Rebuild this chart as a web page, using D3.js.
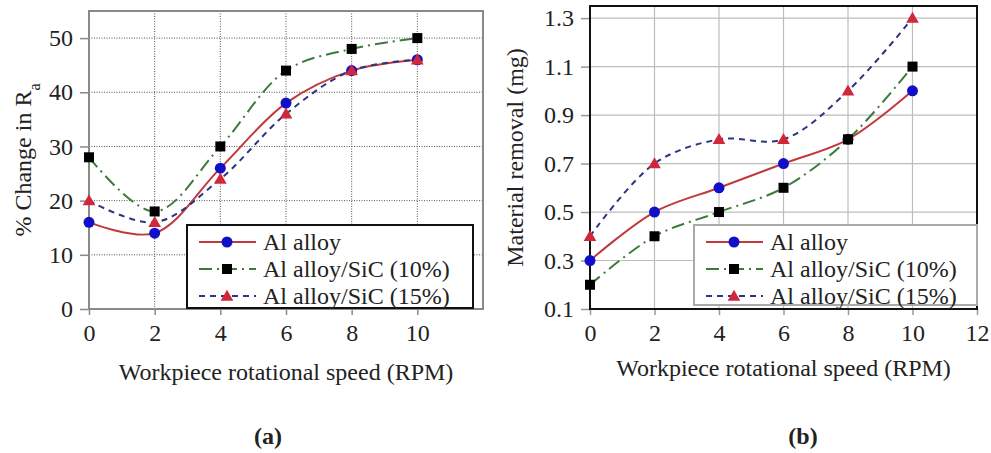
<!DOCTYPE html>
<html>
<head>
<meta charset="utf-8">
<script src="https://cdn.jsdelivr.net/npm/d3@7"></script>
<style>
  body { margin: 0; background: #fff; }
  text { font-family: "Liberation Serif", "Times New Roman", serif; fill: #222; }
</style>
</head>
<body>
<script>
const speeds = [0, 2, 4, 6, 8, 10]
const seriesNames = ['Al alloy', 'Al alloy/SiC (10%)', 'Al alloy/SiC (15%)']

// (a) % change in Ra
const raAlloy = [16, 14, 26, 38, 44, 46]
const raSic10 = [28, 18, 30, 44, 48, 50]
const raSic15 = [20, 16, 24, 36, 44, 46]

// (b) material removal (mg)
const mrAlloy = [0.3, 0.5, 0.6, 0.7, 0.8, 1.0]
const mrSic10 = [0.2, 0.4, 0.5, 0.6, 0.8, 1.1]
const mrSic15 = [0.4, 0.7, 0.8, 0.8, 1.0, 1.3]

const raTicksY = [0, 10, 20, 30, 40, 50]
const raTicksX = [0, 2, 4, 6, 8, 10]
const mrTicksY = [0.1, 0.3, 0.5, 0.7, 0.9, 1.1, 1.3]
const mrTicksX = [0, 2, 4, 6, 8, 10, 12]

const w = 991
const h = 453
const fs = 24

const styles = [
  { line: '#c0393d', dash: null, marker: 'circle', fill: '#1010c8' },
  { line: '#3d7a3a', dash: '13,5,2,5', marker: 'square', fill: '#000' },
  { line: '#2b3485', dash: '6,5', marker: 'triangle', fill: '#d0283a' }
]

const svg = d3.select('body')
  .append('svg')
  .attr('width', w)
  .attr('height', h)

function drawMarker(g, type, x, y, fill) {
  if (type === 'circle') {
    g.append('circle').attr('cx', x).attr('cy', y).attr('r', 5.5).attr('fill', fill)
  } else if (type === 'square') {
    g.append('rect').attr('x', x - 5).attr('y', y - 5).attr('width', 10).attr('height', 10).attr('fill', fill)
  } else {
    g.append('path').attr('d', d3.symbol(d3.symbolTriangle, 70)()).attr('transform', `translate(${x},${y + 1})`).attr('fill', fill)
  }
}

function drawChart(opt) {
  const g = svg.append('g')
  const x = d3.scaleLinear().domain(opt.xDomain).range(opt.xRange)
  const y = d3.scaleLinear().domain(opt.yDomain).range(opt.yRange)

  // grid
  g.selectAll('.gx').data(opt.xTicks.filter(t => t > opt.xDomain[0] && t < opt.xDomain[1])).enter()
    .append('line')
    .attr('x1', d => x(d)).attr('x2', d => x(d))
    .attr('y1', opt.yRange[1]).attr('y2', opt.yRange[0])
    .attr('stroke', opt.gridColor).attr('stroke-width', opt.gridWidth)
    .attr('stroke-dasharray', opt.gridDash)
  g.selectAll('.gy').data(opt.yTicks.filter(t => t > opt.yDomain[0] && t < opt.yDomain[1])).enter()
    .append('line')
    .attr('x1', opt.xRange[0]).attr('x2', opt.xRange[1])
    .attr('y1', d => y(d)).attr('y2', d => y(d))
    .attr('stroke', opt.gridColor).attr('stroke-width', opt.gridWidth)
    .attr('stroke-dasharray', opt.gridDash)

  // axes (ticks + labels)
  const xAxis = d3.axisBottom(x).tickValues(opt.xTicks).tickSize(6).tickPadding(9)
    .tickFormat(d3.format('d'))
  const yAxis = d3.axisLeft(y).tickValues(opt.yTicks).tickSize(9).tickPadding(7)
    .tickFormat(opt.yFormat)
  const gx = g.append('g').attr('transform', `translate(0,${opt.yRange[0]})`).call(xAxis)
  const gy = g.append('g').attr('transform', `translate(${opt.xRange[0]},0)`).call(yAxis)
  ;[gx, gy].forEach(a => {
    a.attr('font-family', null).attr('font-size', null)
    a.select('.domain').remove()
    a.selectAll('line').attr('stroke', opt.tickColor).attr('stroke-width', 1.5)
    a.selectAll('text').style('font-family', '"Liberation Serif", serif').style('font-size', fs + 'px').attr('fill', '#222')
  })

  // frame
  g.append('rect')
    .attr('x', opt.xRange[0]).attr('y', opt.yRange[1])
    .attr('width', opt.xRange[1] - opt.xRange[0])
    .attr('height', opt.yRange[0] - opt.yRange[1])
    .attr('fill', 'none').attr('stroke', opt.frameColor).attr('stroke-width', 2)

  // series
  const line = d3.line().x(d => x(d[0])).y(d => y(d[1])).curve(d3.curveCatmullRom.alpha(0.5))
  opt.series.forEach((vals, i) => {
    const pts = speeds.map((s, j) => [s, vals[j]])
    const st = styles[i]
    g.append('path').datum(pts)
      .attr('d', line)
      .attr('fill', 'none').attr('stroke', st.line).attr('stroke-width', 2)
      .attr('stroke-dasharray', st.dash)
    pts.forEach(p => drawMarker(g, st.marker, x(p[0]), y(p[1]), st.fill))
  })

  // legend
  const lg = g.append('g')
  lg.append('rect')
    .attr('x', opt.legend.x).attr('y', opt.legend.y)
    .attr('width', opt.legend.w).attr('height', opt.legend.h)
    .attr('fill', '#fff').attr('stroke', opt.legend.stroke).attr('stroke-width', 2)
  seriesNames.forEach((name, i) => {
    const st = styles[i]
    const cy = opt.legend.y + 17 + i * 27
    const lx = opt.legend.x + 12
    lg.append('line').attr('x1', lx).attr('x2', lx + 57).attr('y1', cy).attr('y2', cy)
      .attr('stroke', st.line).attr('stroke-width', 2).attr('stroke-dasharray', st.dash)
    drawMarker(lg, st.marker, lx + 28, cy, st.fill)
    lg.append('text').attr('x', lx + 64).attr('y', cy + 8)
      .style('font-size', fs + 'px').text(name)
  })

  // titles
  g.append('text')
    .attr('x', (opt.xRange[0] + opt.xRange[1]) / 2).attr('y', opt.xTitleY)
    .attr('text-anchor', 'middle').style('font-size', fs + 'px')
    .text('Workpiece rotational speed (RPM)')

  const yt = g.append('text')
    .attr('transform', `translate(${opt.yTitleX},${(opt.yRange[0] + opt.yRange[1]) / 2}) rotate(-90)`)
    .attr('text-anchor', 'middle').style('font-size', fs + 'px')
  opt.yTitle(yt)

  g.append('text')
    .attr('x', opt.caption.x).attr('y', opt.caption.y)
    .attr('text-anchor', 'middle').style('font-size', fs + 'px').style('font-weight', 'bold')
    .text(opt.caption.text)
}

drawChart({
  xDomain: [0, 12], xRange: [89, 483],
  yDomain: [0, 55], yRange: [309, 11],
  xTicks: raTicksX, yTicks: raTicksY,
  yFormat: d3.format('d'),
  gridColor: '#555', gridWidth: 1, gridDash: '1,1.5',
  frameColor: '#8a8a8a', tickColor: '#8a8a8a',
  series: [raAlloy, raSic10, raSic15],
  legend: { x: 187, y: 225, w: 286, h: 83, stroke: '#111' },
  xTitleY: 380,
  yTitleX: 31,
  yTitle: t => {
    t.append('tspan').text('% Change in R')
    t.append('tspan').attr('baseline-shift', 'sub').style('font-size', '16px').text('a')
  },
  caption: { x: 268, y: 444, text: '(a)' }
})

drawChart({
  xDomain: [0, 12], xRange: [590, 977],
  yDomain: [0.1, 1.35], yRange: [309, 6],
  xTicks: mrTicksX, yTicks: mrTicksY,
  yFormat: d3.format('.1f'),
  gridColor: '#bdbdbd', gridWidth: 1.2, gridDash: null,
  frameColor: '#111', tickColor: '#999',
  series: [mrAlloy, mrSic10, mrSic15],
  legend: { x: 694, y: 225, w: 283, h: 80, stroke: '#aaa' },
  xTitleY: 376,
  yTitleX: 523,
  yTitle: t => t.text('Material removal (mg)'),
  caption: { x: 803, y: 444, text: '(b)' }
})
</script>
</body>
</html>
